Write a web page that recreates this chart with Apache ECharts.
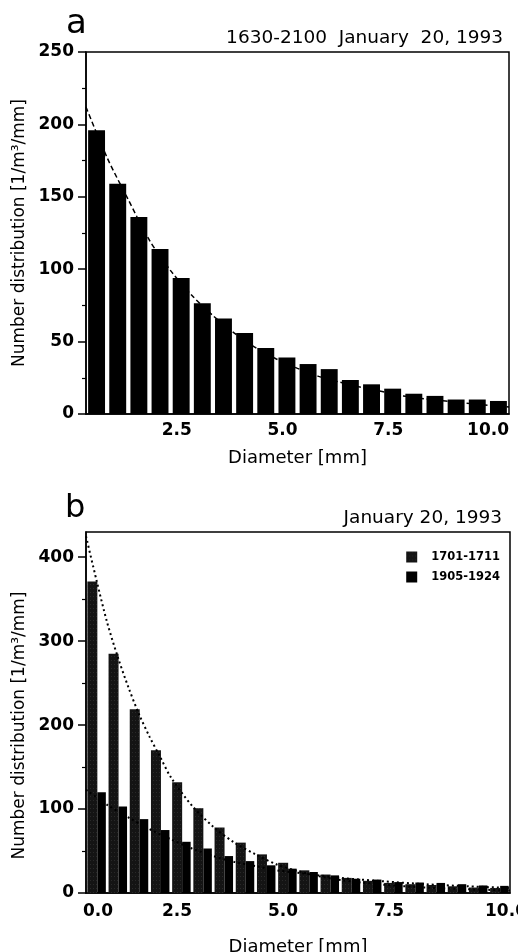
<!DOCTYPE html>
<html>
<head>
<meta charset="utf-8">
<script src="https://cdn.jsdelivr.net/npm/echarts@6/dist/echarts.min.js"></script>
<style>
  html, body { margin: 0; padding: 0; background: #fff; }
  #chart { width: 518px; height: 952px; }
</style>
</head>
<body>
<div id="chart"></div>
<script>
// 0.5 mm diameter bins
const diameterBins = ['0.0-0.5', '0.5-1.0', '1.0-1.5', '1.5-2.0', '2.0-2.5', '2.5-3.0', '3.0-3.5', '3.5-4.0', '4.0-4.5', '4.5-5.0',
  '5.0-5.5', '5.5-6.0', '6.0-6.5', '6.5-7.0', '7.0-7.5', '7.5-8.0', '8.0-8.5', '8.5-9.0', '9.0-9.5', '9.5-10.0']

// panel a: 1630-2100
const countsA = [196, 159, 136, 114, 94, 76.5, 66, 56, 45.5, 39, 34.5, 31, 23.5, 20.5, 17.5, 14, 12.5, 10, 10, 9]
const fitA = [[0, 212], [0.5, 177], [1, 148], [1.5, 120], [2, 99], [2.5, 82], [3, 68], [3.5, 56], [4, 46], [4.5, 38],
  [5, 31.5], [5.5, 26], [6, 22], [6.5, 18.5], [7, 15.5], [7.5, 12.5], [8, 10.5], [8.5, 9], [9, 7.5], [9.5, 6], [10, 4.8]]

// panel b: two periods
const countsB1701 = [371, 285, 219, 170, 132, 101, 78, 60, 46, 36, 27, 22, 18, 14.5, 12, 10.5, 9.5, 8, 6.5, 6]
const countsB1905 = [120, 103, 88, 75, 61, 53, 44, 38, 33, 29, 25, 21, 17, 16, 13, 12.5, 12, 10.5, 9, 8.5]
const fitB1701 = [[0, 425], [0.25, 372], [0.5, 322], [0.75, 281], [1, 245], [1.25, 213], [1.5, 186], [1.75, 162], [2, 138],
  [2.5, 104], [3, 79], [3.5, 60], [4, 46], [4.5, 34], [5, 26], [5.5, 20], [6, 15.5], [6.5, 12.5], [7, 10], [8, 6.5], [9, 4.5], [10, 3]]
const fitB1905 = [[0, 123], [0.5, 105], [1, 90], [1.5, 76], [2, 64], [2.5, 53], [3, 44], [3.5, 37], [4, 32], [4.5, 27],
  [5, 24], [6, 18], [7, 14], [8, 10.5], [9, 8], [10, 6]]

// tick values
const yMajorB = [0, 100, 200, 300, 400]
const yMinorB = [50, 150, 250, 350]

const FONT = 'DejaVu Sans'
const yName = 'Number distribution [1/m³/mm]'

const chart = echarts.init(document.getElementById('chart'))

const tickFont = { fontFamily: FONT, fontSize: 17, fontWeight: 'bold', color: '#000' }

const catAxis = (gridIndex) => ({
  type: 'category',
  gridIndex: gridIndex,
  data: diameterBins,
  position: 'bottom',
  boundaryGap: true,
  axisLine: { show: true, lineStyle: { color: '#000', width: 1.5 } },
  axisTick: { show: false },
  axisLabel: { show: false },
  splitLine: { show: false }
})

const valueXAxis = (gridIndex, extra) => Object.assign({
  type: 'value',
  gridIndex: gridIndex,
  position: 'bottom',
  min: 0,
  max: 10,
  interval: 2.5,
  axisLine: { show: false },
  axisTick: { show: false },
  splitLine: { show: false }
}, extra)

const option = {
  animation: false,
  backgroundColor: '#fff',
  textStyle: { fontFamily: FONT, color: '#000' },
  title: [
    { text: 'a', left: 66, top: 7, padding: 0, textStyle: { fontFamily: FONT, fontSize: 34, fontWeight: 'normal', color: '#000' } },
    { text: '1630-2100  January  20, 1993', right: 15, top: 29, padding: 0,
      textStyle: { fontFamily: FONT, fontSize: 18.5, fontWeight: 'normal', color: '#000' } },
    { text: 'b', left: 65, top: 493, padding: 0, textStyle: { fontFamily: FONT, fontSize: 32, fontWeight: 'normal', color: '#000' } },
    { text: 'January 20, 1993', right: 16, top: 509, padding: 0,
      textStyle: { fontFamily: FONT, fontSize: 18.5, fontWeight: 'normal', color: '#000' } }
  ],
  legend: {
    data: ['1701-1711', '1905-1924'],
    orient: 'vertical',
    right: 18,
    top: 551,
    padding: 0,
    icon: 'rect',
    itemWidth: 11,
    itemHeight: 11,
    itemGap: 8,
    textStyle: { fontFamily: FONT, fontSize: 11.5, fontWeight: 'bold', color: '#000', padding: [0, 0, 0, 9] }
  },
  grid: [
    { left: 86, top: 52, width: 423, height: 362, show: true, borderColor: '#000', borderWidth: 1.5,
      containLabel: false, outerBoundsMode: 'none' },
    { left: 86, top: 532, width: 424, height: 361, show: true, borderColor: '#000', borderWidth: 1.5,
      containLabel: false, outerBoundsMode: 'none' }
  ],
  xAxis: [
    catAxis(0),
    valueXAxis(0, {
      name: 'Diameter [mm]',
      nameLocation: 'middle',
      nameGap: 35,
      nameTextStyle: { fontFamily: FONT, fontSize: 18, color: '#000' },
      axisLabel: Object.assign({}, tickFont, {
        margin: 8, align: 'right',
        formatter: v => (v === 0 ? '' : v.toFixed(1))
      })
    }),
    catAxis(1),
    valueXAxis(1, {
      name: 'Diameter [mm]',
      nameLocation: 'middle',
      nameGap: 45,
      nameTextStyle: { fontFamily: FONT, fontSize: 18, color: '#000' },
      axisLabel: Object.assign({}, tickFont, {
        margin: 10, align: 'right',
        formatter: v => (v === 0 || v === 10 ? '' : v.toFixed(1))
      })
    }),
    valueXAxis(1, {
      axisLabel: Object.assign({}, tickFont, {
        margin: 10, align: 'center',
        formatter: v => (v === 0 ? '{l|0.0}' : v === 10 ? '{r|10.0}' : ''),
        rich: {
          l: Object.assign({}, tickFont, { padding: [0, 0, 0, 24] }),
          r: Object.assign({}, tickFont, { padding: [0, 8, 0, 0] })
        }
      })
    })
  ],
  yAxis: [
    {
      type: 'value',
      gridIndex: 0,
      min: 0,
      max: 250,
      interval: 50,
      name: yName,
      nameLocation: 'middle',
      nameGap: 54,
      nameTextStyle: { fontFamily: FONT, fontSize: 17, color: '#000' },
      axisLine: { show: true, lineStyle: { color: '#000', width: 1.5 } },
      axisTick: { show: true, length: 8, lineStyle: { color: '#000', width: 1.5 } },
      minorTick: { show: true, splitNumber: 2, length: 4, lineStyle: { color: '#000', width: 1.2 } },
      axisLabel: Object.assign({}, tickFont, { margin: 12 }),
      splitLine: { show: false }
    },
    {
      type: 'value',
      gridIndex: 1,
      position: 'left',
      min: 0,
      max: 430,
      name: yName,
      nameLocation: 'middle',
      nameGap: 54,
      nameTextStyle: { fontFamily: FONT, fontSize: 17, color: '#000', padding: [0, 26, 0, 0] },
      axisLine: { show: true, lineStyle: { color: '#000', width: 1.5 } },
      axisTick: { show: true, length: 8, customValues: yMajorB, lineStyle: { color: '#000', width: 1.5 } },
      axisLabel: Object.assign({}, tickFont, { margin: 12, customValues: yMajorB }),
      splitLine: { show: false }
    },
    {
      type: 'value',
      gridIndex: 1,
      position: 'left',
      offset: 0,
      min: 0,
      max: 430,
      axisLine: { show: false },
      axisTick: { show: true, length: 4, customValues: yMinorB, lineStyle: { color: '#000', width: 1.2 } },
      axisLabel: { show: false },
      splitLine: { show: false }
    }
  ],
  series: [
    {
      name: '1630-2100',
      type: 'bar',
      xAxisIndex: 0,
      yAxisIndex: 0,
      data: countsA,
      barWidth: '80%',
      itemStyle: { color: '#000' }
    },
    {
      name: 'fit a',
      type: 'line',
      xAxisIndex: 1,
      yAxisIndex: 0,
      data: fitA,
      smooth: 0.3,
      showSymbol: false,
      z: 3,
      lineStyle: { color: '#000', width: 1.5, type: [5, 3] }
    },
    {
      name: '1701-1711',
      type: 'bar',
      xAxisIndex: 2,
      yAxisIndex: 1,
      data: countsB1701,
      barWidth: 10,
      barGap: '0%',
      itemStyle: {
        color: '#141414',
        decal: { symbol: 'rect', symbolSize: 0.6, dashArrayX: [1, 2], dashArrayY: [1, 3], color: 'rgba(255,255,255,0.3)', rotation: 0 }
      }
    },
    {
      name: '1905-1924',
      type: 'bar',
      xAxisIndex: 2,
      yAxisIndex: 1,
      data: countsB1905,
      barWidth: 8.5,
      barGap: '0%',
      itemStyle: { color: '#000' }
    },
    {
      name: 'fit 1701',
      type: 'line',
      xAxisIndex: 3,
      yAxisIndex: 1,
      data: fitB1701,
      smooth: 0.3,
      showSymbol: false,
      z: 3,
      lineStyle: { color: '#000', width: 2, type: [2, 3] }
    },
    {
      name: 'fit 1905',
      type: 'line',
      xAxisIndex: 3,
      yAxisIndex: 1,
      data: fitB1905,
      smooth: 0.3,
      showSymbol: false,
      z: 3,
      lineStyle: { color: '#000', width: 2, type: [2, 3] }
    }
  ]
}

chart.setOption(option)
</script>
</body>
</html>
